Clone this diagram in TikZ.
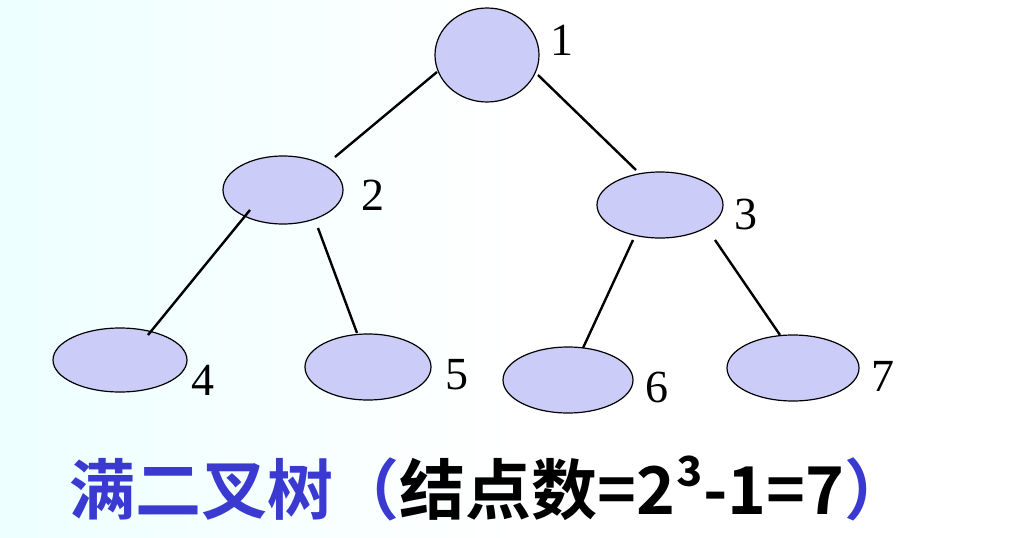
\documentclass[tikz,border=0pt]{standalone}
\usetikzlibrary{shapes.geometric}
\usepackage{fontspec}
\setmainfont{Liberation Serif}
\newfontfamily\cjk{Noto Sans CJK SC Bold}
\definecolor{nodefill}{HTML}{CCCCF8}
\definecolor{titleblue}{HTML}{3A3AD0}
\begin{document}
\begin{tikzpicture}[x=1pt,y=-1pt,
  tn/.style={ellipse,draw=black,line width=1.2pt,fill=nodefill,inner sep=0pt},
  lab/.style={font=\fontsize{46}{46}\selectfont,inner sep=0pt},
  edge/.style={line width=2.4pt}]
\useasboundingbox (0,0) rectangle (1020,538);
\shade[left color=cyan!7,right color=white] (0,0) rectangle (520,538);
\node[tn,minimum width=104pt,minimum height=94pt] (n1) at (487,55) {};
\node[tn,minimum width=120pt,minimum height=68pt] (n2) at (283,190) {};
\node[tn,minimum width=126pt,minimum height=66pt] (n3) at (660,205) {};
\node[tn,minimum width=134pt,minimum height=64pt] (n4) at (120,360) {};
\node[tn,minimum width=126pt,minimum height=66pt] (n5) at (368,367) {};
\node[tn,minimum width=130pt,minimum height=66pt] (n6) at (568,380) {};
\node[tn,minimum width=132pt,minimum height=66pt] (n7) at (793,368) {};
\draw[edge] ([shift={(-50,17)}]n1.center) -- ([shift={(52,-33)}]n2.center);
\draw[edge] ([shift={(51,20)}]n1.center) -- ([shift={(-24,-35)}]n3.center);
\draw[edge] ([shift={(-33,20)}]n2.center) -- ([shift={(28,-25)}]n4.center);
\draw[edge] ([shift={(35,38)}]n2.center) -- ([shift={(-11,-34)}]n5.center);
\draw[edge] ([shift={(-27,35)}]n3.center) -- ([shift={(15,-32)}]n6.center);
\draw[edge] ([shift={(55,35)}]n3.center) -- ([shift={(-13,-33)}]n7.center);
\node[lab] (l1) at (562,40) {1};
\node[lab] (l2) at (373,195) {2};
\node[lab] (l3) at (746,214) {3};
\node[lab] (l4) at (203,380) {4};
\node[lab] (l5) at (457,375) {5};
\node[lab] (l6) at (657,387) {6};
\node[lab] (l7) at (883,376) {7};
\node[inner sep=0pt,font=\cjk\fontsize{66}{66}\selectfont] (t) at (490,488)
  {\textcolor{titleblue}{满二叉树（}结点数=2³-1=7\textcolor{titleblue}{）}};
\end{tikzpicture}
\end{document}
